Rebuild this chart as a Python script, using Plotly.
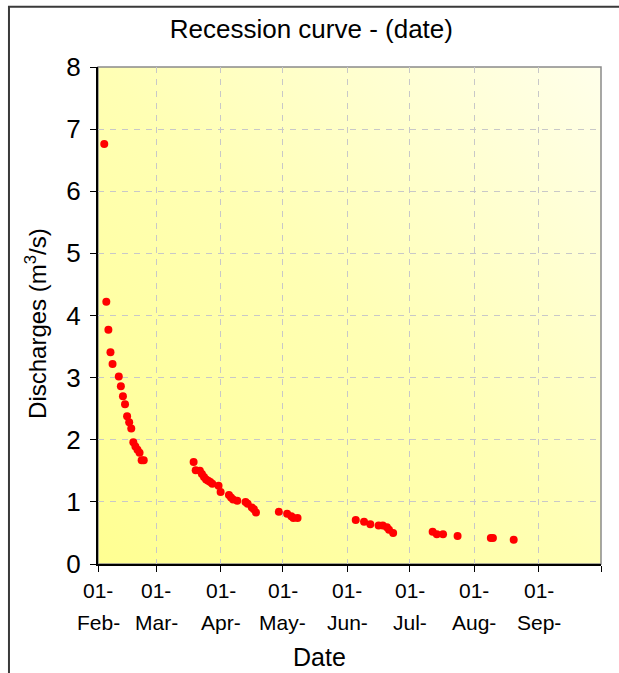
import base64
import plotly.graph_objects as go

# Measured discharges during the recession period
dates = [
    "2005-02-04", "2005-02-05", "2005-02-06", "2005-02-07", "2005-02-08",
    "2005-02-11", "2005-02-12", "2005-02-13", "2005-02-14", "2005-02-15",
    "2005-02-16", "2005-02-17", "2005-02-18", "2005-02-19", "2005-02-20",
    "2005-02-21", "2005-02-22", "2005-02-23",
    "2005-03-19", "2005-03-20", "2005-03-22", "2005-03-23", "2005-03-24",
    "2005-03-25", "2005-03-26", "2005-03-27", "2005-03-28", "2005-03-31",
    "2005-04-01", "2005-04-05", "2005-04-06", "2005-04-07", "2005-04-09",
    "2005-04-13", "2005-04-14", "2005-04-16", "2005-04-17", "2005-04-18",
    "2005-04-29", "2005-05-03", "2005-05-05", "2005-05-06", "2005-05-08",
    "2005-06-05", "2005-06-09", "2005-06-12", "2005-06-16", "2005-06-18",
    "2005-06-20", "2005-06-21", "2005-06-23", "2005-07-12", "2005-07-14",
    "2005-07-17", "2005-07-24", "2005-08-09", "2005-08-10", "2005-08-20",
]
discharges = [
    6.76, 4.22, 3.77, 3.41, 3.22,
    3.02, 2.86, 2.70, 2.57, 2.38,
    2.28, 2.18, 1.96, 1.89, 1.84,
    1.79, 1.67, 1.67,
    1.64, 1.51, 1.50, 1.45, 1.40,
    1.36, 1.34, 1.32, 1.29, 1.26,
    1.16, 1.11, 1.07, 1.04, 1.02,
    1.00, 0.97, 0.91, 0.88, 0.83,
    0.84, 0.81, 0.77, 0.74, 0.74,
    0.71, 0.68, 0.64, 0.62, 0.62,
    0.59, 0.55, 0.50, 0.52, 0.48,
    0.48, 0.45, 0.42, 0.42, 0.39,
]

# Month ticks on the date axis
month_starts = [
    "2005-02-01", "2005-03-01", "2005-04-01", "2005-05-01", "2005-06-01",
    "2005-07-01", "2005-08-01", "2005-09-01", "2005-10-01",
]
day_labels = ["01-", "01-", "01-", "01-", "01-", "01-", "01-", "01-", ""]
month_labels = ["Feb-", "Mar-", "Apr-", "May-", "Jun-", "Jul-", "Aug-", "Sep-", ""]
y_ticks = [0, 1, 2, 3, 4, 5, 6, 7, 8]

FONT = "Liberation Sans, Arial, sans-serif"

# Diagonal yellow gradient used as the plot-area fill
svg = (
    '<svg xmlns="http://www.w3.org/2000/svg" width="100" height="100" '
    'preserveAspectRatio="none">'
    '<defs><linearGradient id="g" x1="0" y1="1" x2="1" y2="0">'
    '<stop offset="0" stop-color="#FFFF92"/>'
    '<stop offset="0.5" stop-color="#FFFFB4"/>'
    '<stop offset="1" stop-color="#FFFFEA"/>'
    '</linearGradient></defs>'
    '<rect width="100" height="100" fill="url(#g)"/></svg>'
)
svg_uri = "data:image/svg+xml;base64," + base64.b64encode(svg.encode()).decode()

fig = go.Figure()
fig.add_trace(go.Scatter(
    x=dates, y=discharges, mode="markers",
    marker=dict(color="#FF0000", size=8, line=dict(width=0)),
    showlegend=False, hoverinfo="x+y",
))

annotations = []
for m, d, lab in zip(month_starts, day_labels, month_labels):
    if not d:
        continue
    annotations.append(dict(
        x=m, y=0, xref="x", yref="paper", text=d, showarrow=False,
        xanchor="center", yanchor="middle", yshift=-26,
        font=dict(family=FONT, size=21, color="#000000"),
    ))
    annotations.append(dict(
        x=m, y=0, xref="x", yref="paper", text=lab, showarrow=False,
        xanchor="center", yanchor="middle", yshift=-58,
        font=dict(family=FONT, size=21, color="#000000"),
    ))

annotations.append(dict(
    x=0.44, y=0, xref="paper", yref="paper", text="Date", showarrow=False,
    xanchor="center", yanchor="middle", yshift=-93,
    font=dict(family=FONT, size=25, color="#000000"),
))
annotations.append(dict(
    x=0, y=0.483, xref="paper", yref="paper",
    text="Discharges (m<sup>3</sup>/s)", showarrow=False, textangle=-90,
    xanchor="center", yanchor="middle", xshift=-62,
    font=dict(family=FONT, size=24, color="#000000"),
))

fig.update_layout(
    width=619, height=673,
    margin=dict(l=98, r=18, t=67, b=109),
    paper_bgcolor="#FFFFFF",
    plot_bgcolor="rgba(0,0,0,0)",
    title=dict(
        text="Recession curve - (date)", x=0.503, xanchor="center",
        y=1 - 29 / 673, yanchor="middle",
        font=dict(family=FONT, size=26, color="#000000"),
    ),
    images=[dict(
        source=svg_uri, xref="paper", yref="paper", x=0, y=1,
        sizex=1, sizey=1, xanchor="left", yanchor="top",
        sizing="stretch", layer="below",
    )],
    shapes=[
        # outer chart frame
        dict(type="rect", xref="paper", yref="paper",
             x0=-0.177, x1=1.1, y0=-0.3, y1=1.121,
             line=dict(color="#3A3A3A", width=2), layer="below"),
        # plot-area border
        dict(type="rect", xref="paper", yref="paper",
             x0=0, x1=1, y0=0, y1=1,
             line=dict(color="#8A8A8A", width=1.5), layer="below"),
    ],
    annotations=annotations,
    xaxis=dict(
        type="date", range=[month_starts[0], month_starts[-1]],
        tickmode="array", tickvals=month_starts, showticklabels=False,
        ticks="outside", ticklen=6, tickcolor="#000000", tickwidth=1,
        showline=True, linecolor="#000000", linewidth=2,
        showgrid=True, gridcolor="#C8C8C8", gridwidth=1, griddash="6px,6px",
        zeroline=False, fixedrange=True,
    ),
    yaxis=dict(
        range=[0, 8], tickmode="array", tickvals=y_ticks,
        ticktext=[str(v) for v in y_ticks],
        ticks="outside", ticklen=6, tickcolor="#000000", tickwidth=1,
        ticklabelstandoff=4,
        showline=True, linecolor="#000000", linewidth=2,
        showgrid=True, gridcolor="#C8C8C8", gridwidth=1, griddash="6px,6px",
        zeroline=False, fixedrange=True,
        tickfont=dict(family=FONT, size=26, color="#000000"),
    ),
)

fig.write_html("out.html")
